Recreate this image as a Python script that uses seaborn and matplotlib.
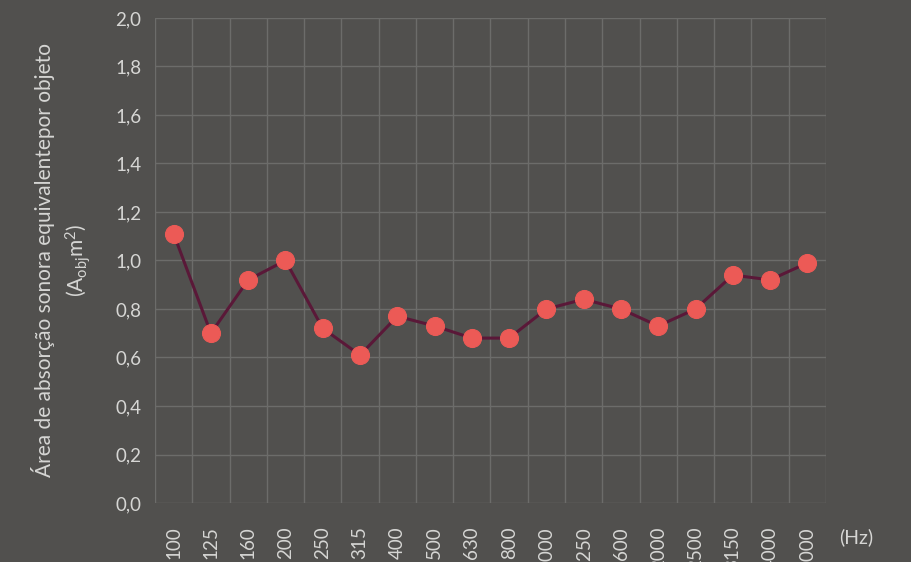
import numpy as np
import matplotlib
matplotlib.use("Agg")
import matplotlib.pyplot as plt
import pandas as pd
import seaborn as sns
from matplotlib.ticker import FuncFormatter, MultipleLocator, FixedLocator

freqs = ["100", "125", "160", "200", "250", "315", "400", "500", "630", "800",
         "1000", "1250", "1600", "2000", "2500", "3150", "4000", "5000"]
a_obj = [1.11, 0.70, 0.92, 1.00, 0.72, 0.61, 0.77, 0.73, 0.68, 0.68,
         0.80, 0.84, 0.80, 0.73, 0.80, 0.94, 0.92, 0.99]

bg = "#51504e"
grid_c = "#6c6c6a"
text_c = "#d6d6d4"
line_c = "#5a1838"
dot_c = "#ec5a56"

sns.set_theme(style="dark")
plt.rcParams["font.family"] = ["Lato", "DejaVu Sans"]

df = pd.DataFrame({"freq": freqs, "a": a_obj})

fig = plt.figure(figsize=(9.12, 5.62), dpi=100, facecolor=bg)
ax = fig.add_axes([155 / 912, 1 - 503 / 562, 671 / 912, 485 / 562])
ax.set_facecolor(bg)

sns.lineplot(data=df, x="freq", y="a", ax=ax, color=line_c, linewidth=2.2,
             marker="o", markersize=13, markerfacecolor=dot_c,
             markeredgecolor=dot_c, sort=False)

ax.set_xlim(-0.5, len(freqs) - 0.5)
ax.set_ylim(0, 2.0)
ax.yaxis.set_major_locator(MultipleLocator(0.2))
ax.yaxis.set_major_formatter(FuncFormatter(lambda v, p: f"{v:.1f}".replace(".", ",")))
ax.xaxis.set_minor_locator(FixedLocator(np.arange(-0.5, len(freqs), 1.0)))

ax.grid(False)
ax.grid(True, which="minor", axis="x", color=grid_c, linewidth=1)
ax.grid(True, which="major", axis="y", color=grid_c, linewidth=1)
for s in ax.spines.values():
    s.set_visible(False)

ax.tick_params(axis="x", which="both", length=0, pad=17, labelsize=13.5,
               labelcolor=text_c, labelrotation=90)
ax.tick_params(axis="y", length=0, pad=10, labelsize=13.5, labelcolor=text_c)
for lbl in ax.get_xticklabels():
    lbl.set_va("top")
    lbl.set_ha("center")

ax.set_xlabel("")
ax.set_ylabel("Área de absorção sonora equivalentepor objeto\n"
              r"($\mathregular{A_{obj}m^2}$)",
              color=text_c, fontsize=15, labelpad=16, linespacing=1.4)

ax.text(1.02, -0.07, "(Hz)", transform=ax.transAxes, color=text_c,
        fontsize=14, ha="left", va="center")

fig.savefig("out.png", dpi=100, facecolor=bg)
